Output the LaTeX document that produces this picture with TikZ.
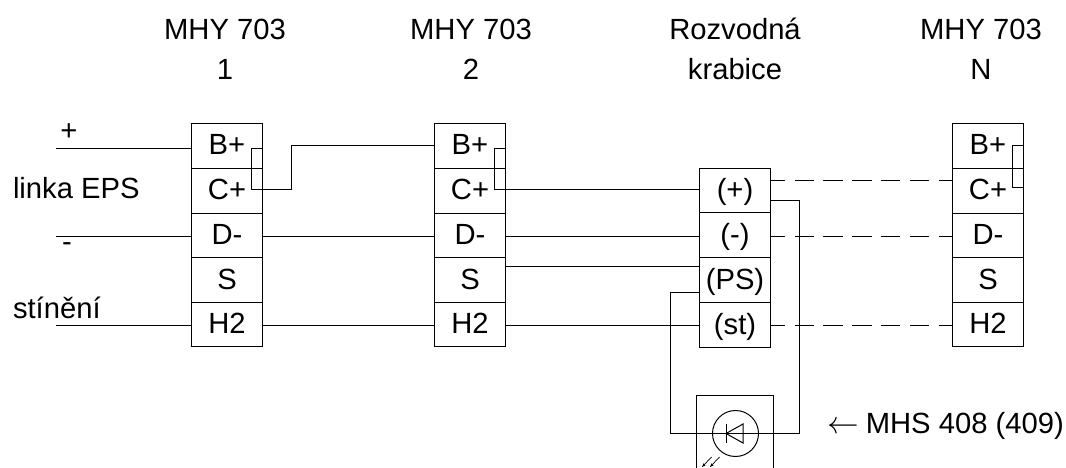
\documentclass[tikz,border=0pt]{standalone}
\usepackage{fontspec}
\setmainfont{Liberation Sans}
\usetikzlibrary{arrows.meta}
\tikzset{
    celda/.style={draw,minimum width=70.5pt,minimum height=44.5pt,inner sep=0pt,outer sep=0pt,
        text height=20pt,text depth=2pt},
    rotulo/.style={inner sep=0pt,text height=20pt,text depth=0pt},
    titulo/.style={inner sep=0pt,align=center},
    trazos/.style={dash pattern=on 19.5pt off 9.3pt,dash phase=4.5pt},
    flecha/.style={-{Stealth[length=4pt,width=3pt]},line width=.7pt}
}
\begin{document}
\begin{tikzpicture}[x=1pt,y=-1pt,line width=1pt,every node/.append style={font=\fontsize{29.2}{40}\selectfont}]
    \useasboundingbox (0,0) rectangle (1066,468);
    % Titulos
    \node[titulo] (t1) at (225,49) {MHY 703\\1};
    \node[titulo] (t2) at (471,49) {MHY 703\\2};
    \node[titulo] (t3) at (735,49) {Rozvodná\\krabice};
    \node[titulo] (t4) at (981,49) {MHY 703\\N};

    % Regletas
    \foreach \col/\x in {a/227,b/470,n/988}{
        \foreach \fila/\y/\texto in {p/146/B+,c/191/C+,d/235.5/D-,s/280/S,h/324.5/H2}
            \node[celda] (\col\fila) at (\x,\y) {\texto};
    }
    % Rozvodna krabice
    \foreach \fila/\y/\texto in {p/190.5/(+),m/235/(-),s/280/(PS),t/325/(st)}
        \node[celda] (r\fila) at (735,\y) {\texto};

    % Textos izquierda
    \node[rotulo] (mas) at (69,131) {+};
    \node[rotulo,anchor=west] (linka) at (12.5,189) {linka EPS};
    \node[rotulo] (menos) at (67,241) {-};
    \node[rotulo,anchor=west] (stineni) at (12.5,308) {stínění};
    \node[rotulo,anchor=west] (mhs) at (827,423) {\scalebox{1.27}{$\leftarrow$}\hspace{-1.4pt} MHS 408 (409)};

    % Entradas
    \coordinate (e1) at (56,148.5);
    \coordinate (e2) at (56,236);
    \coordinate (e3) at (56,325.5);
    \draw (e1) -- (e1 -| ap.west);
    \draw (e2) -- (e2 -| ad.west);
    \draw (e3) -- (e3 -| ah.west);

    % Puentes
    \coordinate (pa) at (251,148.5);
    \coordinate (pb) at (494.5,148.5);
    \coordinate (pn) at (1012.5,146);
    \draw (pa -| ap.east) -- (pa) -- (251,189.5) -- (291,189.5) -- (291,146) -- (bp.west);
    \draw (pb -| bp.east) -- (pb) -- (494.5,189.5) -- (rp.west |- 0,189.5);
    \draw (pn -| np.east) -- (pn) -- (1012.5,187.5) -- (1023,187.5);

    % Lineas entre regletas
    \draw (ad.east |- 0,236) -- (bd.west |- 0,236);
    \draw (ah.east |- 0,325.5) -- (bh.west |- 0,325.5);
    \draw (bd.east |- 0,236) -- (rm.west |- 0,236);
    \draw (bs.east |- 0,266.5) -- (rs.west |- 0,266.5);
    \draw (bh.east |- 0,325.5) -- (rt.west |- 0,325.5);

    % Lineas a trazos
    \draw[trazos] (rp.east |- 0,181) -- (nc.west |- 0,181);
    \draw[trazos] (rm.east |- 0,236) -- (nd.west |- 0,236);
    \draw[trazos] (rt.east |- 0,325.5) -- (nh.west |- 0,325.5);

    % Detector
    \draw (696.5,468) -- (696.5,395.5) -- (773.5,395.5) -- (773.5,468);
    \node[draw,circle,minimum size=46pt,inner sep=0pt,outer sep=0pt] (det) at (735.5,433.5) {};
    \draw (rs.west |- 0,292) -- (670.5,292) -- (670.5,433.5) -- (799,433.5) -- (799,200.5) -- (rp.east |- 0,200.5);
    \draw (726,424) -- (726,443);
    \draw (743,424) -- (726,433.5) -- (743,443) -- cycle;
    \draw[flecha] (711.5,457) -- (702,467);
    \draw[flecha] (719.5,457) -- (710,467);
\end{tikzpicture}
\end{document}
